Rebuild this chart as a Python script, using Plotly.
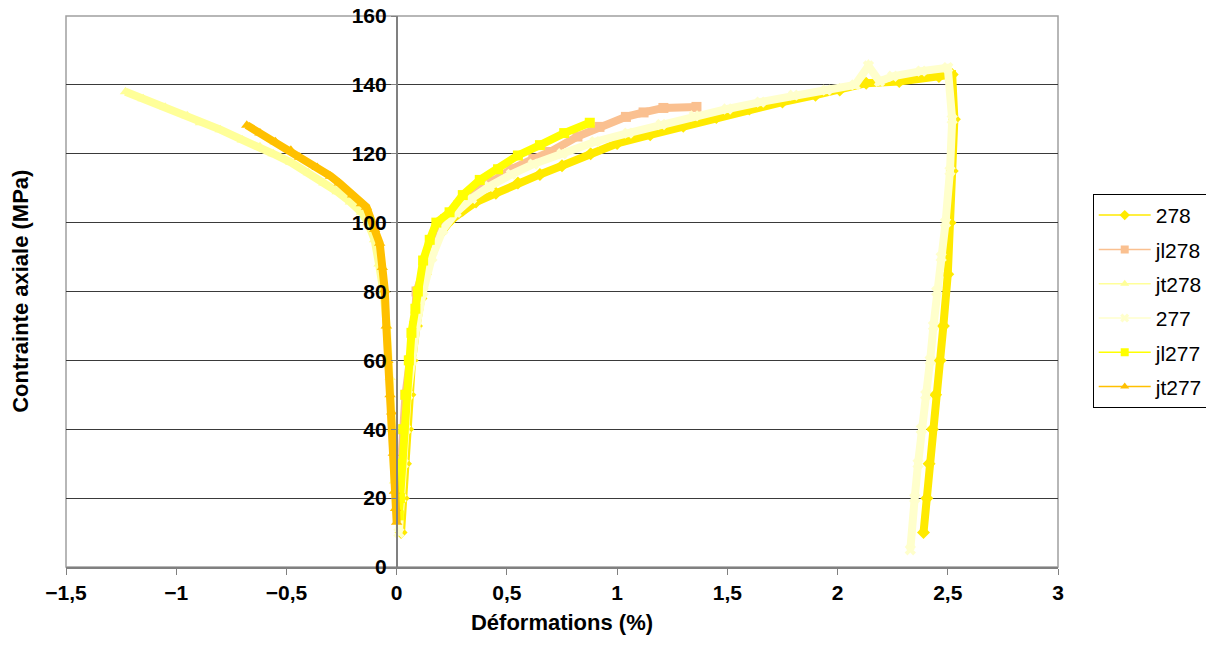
import plotly.graph_objects as go

# ---- data (strain in %, stress in MPa) ----
x_278 = [0.02, 0.03, 0.04, 0.05, 0.06, 0.07, 0.09, 0.11, 0.13, 0.16, 0.20, 0.25, 0.30, 0.36, 0.45,
         0.55, 0.65, 0.75, 0.88, 1.0, 1.15, 1.3, 1.45, 1.6, 1.75, 1.9, 2.01, 2.13, 2.28, 2.46, 2.52,
         2.53, 2.52, 2.51, 2.50, 2.48, 2.465, 2.445, 2.43, 2.415, 2.405, 2.39]
y_278 = [10, 20, 30, 40, 50, 60, 70, 78, 85, 92, 97, 101, 103.6, 106, 108.5,
         111.5, 114, 116.5, 120, 123, 125.5, 128, 130.5, 133, 135, 137, 138.5, 140.5, 141, 142.4, 143,
         130, 115, 100, 85, 70, 60, 50, 40, 30, 20, 10]

x_jl278 = [0.01, 0.02, 0.03, 0.04, 0.06, 0.08, 0.09, 0.13, 0.17, 0.22, 0.28, 0.35, 0.43, 0.52, 0.62,
           0.695, 0.82, 0.92, 1.04, 1.12, 1.21, 1.36]
y_jl278 = [20, 30, 40, 50, 60, 70, 80, 87, 95, 101, 105, 108.5, 112, 115.5, 118.5,
           120.5, 125, 127.8, 130.7, 132, 133.3, 133.6]

x_jt278 = [-1.23, -1.15, -1.05, -0.95, -0.89, -0.8, -0.7, -0.62, -0.56, -0.48, -0.40, -0.33, -0.27,
           -0.21, -0.16, -0.13, -0.10, -0.08, -0.06, -0.045, -0.03, -0.02, -0.01]
y_jt278 = [138, 136, 133.5, 131, 129, 127, 124, 122, 120, 117.5, 114.5, 111.5, 109,
           106, 103, 100, 95, 88, 80, 70, 55, 40, 25]

x_277 = [0.01, 0.02, 0.03, 0.04, 0.05, 0.07, 0.09, 0.12, 0.16, 0.21, 0.27, 0.34, 0.42, 0.52, 0.62,
         0.75, 0.9, 1.05, 1.2, 1.35, 1.5, 1.65, 1.8, 1.95, 2.08, 2.14, 2.19, 2.25, 2.38, 2.50,
         2.52, 2.51, 2.49, 2.47, 2.45, 2.435, 2.42, 2.40, 2.38, 2.365, 2.35, 2.33]
y_277 = [10, 20, 30, 40, 50, 60, 70, 80, 90, 98, 103, 107, 110.5, 114, 117,
         120, 123.5, 126, 128.5, 131, 133, 135, 137, 138.5, 140, 145.5, 141, 142.5, 144, 145,
         130, 115, 100, 90, 80, 70, 60, 50, 40, 30, 20, 5]

x_jl277 = [0.01, 0.015, 0.02, 0.03, 0.04, 0.055, 0.067, 0.085, 0.096, 0.12, 0.15, 0.18, 0.24, 0.30,
           0.377, 0.46, 0.55, 0.65, 0.76, 0.876]
y_jl277 = [15, 20, 30, 40, 50, 60, 68, 75, 80, 89, 95, 100, 103, 108,
           112.4, 115.5, 119.5, 122.5, 126, 129]

x_jt277 = [-0.68, -0.62, -0.55, -0.48, -0.44, -0.36, -0.30, -0.26, -0.20, -0.16, -0.137, -0.10,
           -0.077, -0.065, -0.054, -0.047, -0.04, -0.03, -0.023, -0.015, -0.01, -0.005, 0.0]
y_jt277 = [128.3, 126, 123.5, 121, 119, 116, 113.5, 111.5, 108, 105.5, 104.5, 98,
           94, 87, 80.4, 70, 60, 50, 45, 33, 22, 17, 13]

names = ["278", "jl278", "jt278", "277", "jl277", "jt277"]
xs = [x_278, x_jl278, x_jt278, x_277, x_jl277, x_jt277]
ys = [y_278, y_jl278, y_jt278, y_277, y_jl277, y_jt277]
colors = ["#FFEA00", "#FAC090", "#FFFF99", "#FFFFCC", "#FFFF00", "#FFC000"]
symbols = ["diamond", "square", "triangle-up", "x", "square", "triangle-up"]

FONT = "Liberation Sans, Arial, sans-serif"

fig = go.Figure()
for n, x, y, c, s in zip(names, xs, ys, colors, symbols):
    fig.add_trace(go.Scatter(x=x, y=y, mode="lines+markers", name=n, legendgroup=n,
                             showlegend=False,
                             line=dict(color=c, width=8),
                             marker=dict(color=c, symbol=s, size=10, line=dict(width=0))))
for n, c, s in zip(names, colors, symbols):
    fig.add_trace(go.Scatter(x=[None], y=[None], mode="lines+markers", name=n, legendgroup=n,
                             showlegend=True,
                             line=dict(color=c, width=1.5),
                             marker=dict(color=c, symbol=s, size=8, line=dict(width=0))))

fig.update_layout(
    width=1206, height=656,
    margin=dict(l=66, r=148, t=16, b=89, autoexpand=False),
    paper_bgcolor="white", plot_bgcolor="white",
    separators=", ",
    font=dict(family=FONT, color="black"),
    showlegend=True,
    legend=dict(x=1.035, y=0.677, xanchor="left", yanchor="top",
                bordercolor="black", borderwidth=1, bgcolor="white",
                font=dict(family=FONT, size=21, color="black"),
                traceorder="grouped", tracegroupgap=4, itemwidth=52),
    xaxis=dict(range=[-1.5, 3], dtick=0.5, tick0=0, showgrid=False, zeroline=False,
               automargin=False, ticklabeloverflow="allow",
               showline=True, linecolor="#808080", linewidth=1.5,
               ticks="outside", ticklen=6, tickcolor="#808080",
               tickfont=dict(family=FONT, size=21, weight="bold"),
               title=dict(text="Déformations (%)", standoff=12,
                          font=dict(family=FONT, size=22, weight="bold"))),
    yaxis=dict(range=[0, 160], dtick=20, anchor="free", position=1/3,
               automargin=False, ticklabeloverflow="allow",
               showgrid=True, gridcolor="#3a3a3a", gridwidth=1, zeroline=False,
               showline=True, linecolor="#808080", linewidth=1.5,
               ticks="outside", ticklen=5, tickcolor="#808080",
               tickfont=dict(family=FONT, size=21, weight="bold")),
    shapes=[dict(type="rect", xref="paper", yref="paper", x0=0, x1=1, y0=0, y1=1,
                 line=dict(color="#a0a0a0", width=1.5), layer="below")],
    annotations=[dict(text="Contrainte axiale (MPa)", xref="paper", yref="paper",
                      x=-0.046, y=0.5, xanchor="center", yanchor="middle",
                      textangle=-90, showarrow=False,
                      font=dict(family=FONT, size=22, weight="bold", color="black"))],
)

fig.write_html("out.html", config={"displayModeBar": False},
               post_script="document.body.style.margin='0';")
